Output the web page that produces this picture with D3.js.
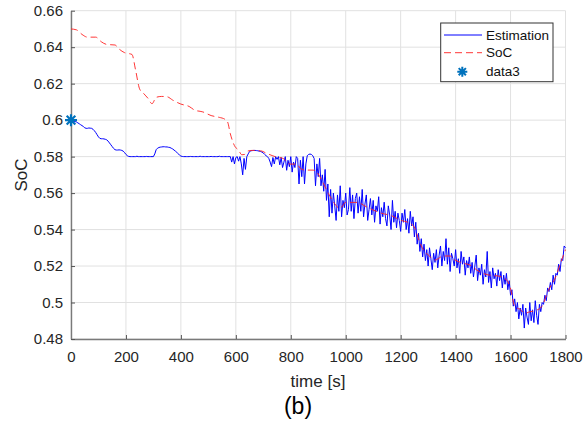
<!DOCTYPE html>
<html><head><meta charset="utf-8">
<script src="https://cdn.jsdelivr.net/npm/d3@7"></script>
<style>body{margin:0;background:#fff} svg{display:block;font-family:"Liberation Sans",Arial,Helvetica,sans-serif}</style>
</head><body><svg id="c" width="584" height="423"></svg>
<script>
// ---------- data ----------
const xTicks = [0, 200, 400, 600, 800, 1000, 1200, 1400, 1600, 1800];
const xTickLabels = ["0", "200", "400", "600", "800", "1000", "1200", "1400", "1600", "1800"];
const yTicks = [0.48, 0.5, 0.52, 0.54, 0.56, 0.58, 0.6, 0.62, 0.64, 0.66];
const yTickLabels = ["0.48", "0.5", "0.52", "0.54", "0.56", "0.58", "0.6", "0.62", "0.64", "0.66"];
const legendLabels = ["Estimation", "SoC", "data3"];

// Estimation: one sample every 5 s from 0 s to 1800 s
const estStartTime = 0;
const estStepSeconds = 5;
const estSoC = [
  0.6000,0.5998,0.5995,0.5992,0.5990,0.5985,0.5980,0.5975,0.5970,0.5965,
  0.5958,0.5955,0.5955,0.5957,0.5956,0.5955,0.5950,0.5942,0.5932,0.5920,
  0.5908,0.5900,0.5898,0.5898,0.5897,0.5895,0.5892,0.5885,0.5875,0.5865,
  0.5855,0.5845,0.5838,0.5836,0.5836,0.5837,0.5836,0.5834,0.5830,0.5822,
  0.5812,0.5805,0.5801,0.5800,0.5800,0.5800,0.5800,0.5800,0.5802,0.5800,
  0.5800,0.5800,0.5800,0.5800,0.5800,0.5801,0.5800,0.5800,0.5800,0.5800,
  0.5800,0.5815,0.5838,0.5846,0.5850,0.5852,0.5853,0.5854,0.5854,0.5853,
  0.5853,0.5851,0.5850,0.5846,0.5842,0.5836,0.5830,0.5824,0.5816,0.5808,
  0.5803,0.5801,0.5800,0.5800,0.5800,0.5800,0.5800,0.5801,0.5800,0.5800,
  0.5800,0.5800,0.5800,0.5800,0.5802,0.5800,0.5800,0.5800,0.5800,0.5800,
  0.5800,0.5800,0.5801,0.5800,0.5800,0.5800,0.5800,0.5800,0.5802,0.5800,
  0.5800,0.5800,0.5800,0.5800,0.5800,0.5800,0.5800,0.5770,0.5800,0.5760,
  0.5795,0.5800,0.5775,0.5800,0.5760,0.5700,0.5790,0.5730,0.5800,0.5815,
  0.5828,0.5832,0.5833,0.5834,0.5834,0.5833,0.5832,0.5830,0.5828,0.5825,
  0.5820,0.5812,0.5805,0.5800,0.5790,0.5770,0.5745,0.5795,0.5760,0.5800,
  0.5785,0.5800,0.5755,0.5795,0.5740,0.5770,0.5800,0.5725,0.5780,0.5745,
  0.5800,0.5715,0.5770,0.5740,0.5800,0.5790,0.5650,0.5780,0.5690,0.5800,
  0.5650,0.5760,0.5805,0.5812,0.5814,0.5812,0.5805,0.5790,0.5640,0.5760,
  0.5690,0.5790,0.5640,0.5700,0.5610,0.5730,0.5560,0.5650,0.5470,0.5620,
  0.5490,0.5600,0.5530,0.5450,0.5590,0.5500,0.5640,0.5470,0.5560,0.5520,
  0.5600,0.5480,0.5510,0.5630,0.5500,0.5590,0.5460,0.5570,0.5600,0.5490,
  0.5580,0.5500,0.5620,0.5470,0.5540,0.5590,0.5450,0.5510,0.5570,0.5480,
  0.5560,0.5440,0.5530,0.5500,0.5580,0.5430,0.5520,0.5470,0.5550,0.5460,
  0.5420,0.5530,0.5480,0.5400,0.5560,0.5440,0.5500,0.5410,0.5490,0.5450,
  0.5390,0.5490,0.5440,0.5510,0.5400,0.5460,0.5380,0.5500,0.5420,0.5470,
  0.5360,0.5440,0.5320,0.5380,0.5280,0.5350,0.5250,0.5320,0.5230,0.5290,
  0.5200,0.5300,0.5240,0.5180,0.5270,0.5220,0.5290,0.5190,0.5260,0.5310,
  0.5200,0.5280,0.5230,0.5350,0.5210,0.5300,0.5170,0.5270,0.5240,0.5200,
  0.5290,0.5190,0.5240,0.5160,0.5280,0.5210,0.5250,0.5150,0.5230,0.5190,
  0.5250,0.5160,0.5220,0.5140,0.5200,0.5260,0.5120,0.5190,0.5150,0.5210,
  0.5100,0.5180,0.5140,0.5280,0.5110,0.5170,0.5080,0.5190,0.5130,0.5160,
  0.5090,0.5180,0.5120,0.5170,0.5080,0.5150,0.5100,0.5160,0.5070,0.5120,
  0.5040,0.5070,0.4980,0.5020,0.4950,0.5000,0.4910,0.4970,0.4930,0.4990,
  0.4860,0.4970,0.4920,0.4880,0.5000,0.4900,0.4960,0.4890,0.5010,0.4930,
  0.4880,0.4990,0.4950,0.5000,0.4990,0.5040,0.5010,0.5080,0.5060,0.5110,
  0.5070,0.5150,0.5100,0.5160,0.5150,0.5210,0.5170,0.5240,0.5230,0.5310,
  0.5300
];

// SoC (reference) curve
const socTime = [0,20,40,60,90,110,130,160,175,195,210,222,235,250,265,280,295,310,330,350,370,400,430,450,480,510,540,560,570,580,595,610,622,632,642,660,690,712,743,772,790,797,822,835,852,881,895,913,937,955,979,1000,1046,1064,1100,1131,1167,1198,1234,1252,1264,1283,1301,1325,1355,1380,1398,1422,1459,1477,1519,1556,1586,1598,1616,1634,1653,1671,1689,1713,1738,1762,1786,1800];
const socValue = [0.650,0.6495,0.647,0.6455,0.6455,0.643,0.6415,0.6412,0.639,0.637,0.6365,0.636,0.6275,0.617,0.6145,0.612,0.609,0.6125,0.613,0.6128,0.611,0.6088,0.6075,0.6055,0.6045,0.6025,0.6015,0.6005,0.599,0.5925,0.586,0.5835,0.581,0.5812,0.583,0.5834,0.5832,0.5818,0.580,0.579,0.5765,0.5759,0.5759,0.5735,0.5726,0.5726,0.5715,0.567,0.5598,0.5552,0.5516,0.5549,0.5549,0.5534,0.5507,0.5489,0.5476,0.5452,0.5434,0.5407,0.5352,0.5288,0.526,0.5233,0.5255,0.5255,0.5233,0.5218,0.520,0.5178,0.5151,0.5145,0.5123,0.5087,0.4977,0.4963,0.4941,0.495,0.4955,0.4977,0.5068,0.5133,0.5233,0.529];

// data3 marker
const data3Time = [0];
const data3Value = [0.6];

// ---------- chart ----------
const svg = d3.select("#c");
const L = 71, R = 565.5, T = 10.7, B = 339;
const x = d3.scaleLinear().domain([0, 1800]).range([L, R]);
const y = d3.scaleLinear().domain([0.48, 0.66]).range([B, T]);

const gridColor = "#e1e1e1";
const g = svg.append("g");
g.selectAll(".vg").data(xTicks).join("line")
  .attr("x1", d => x(d)).attr("x2", d => x(d)).attr("y1", T).attr("y2", B)
  .attr("stroke", gridColor).attr("stroke-width", 1);
g.selectAll(".hg").data(yTicks).join("line")
  .attr("y1", d => y(d)).attr("y2", d => y(d)).attr("x1", L).attr("x2", R)
  .attr("stroke", gridColor).attr("stroke-width", 1);

// axes
const axColor = "#7a7a7a";
const xAxis = svg.append("g").attr("transform", `translate(0,${B})`)
  .call(d3.axisBottom(x).tickValues(xTicks).tickFormat((d, i) => xTickLabels[i])
    .tickSize(-4).tickSizeOuter(0).tickPadding(12.5));
const yAxis = svg.append("g").attr("transform", `translate(${L},0)`)
  .call(d3.axisLeft(y).tickValues(yTicks).tickFormat((d, i) => yTickLabels[i])
    .tickSize(-4).tickSizeOuter(0).tickPadding(8));
[xAxis, yAxis].forEach(a => {
  a.select(".domain").attr("stroke", axColor).attr("stroke-width", 1.4);
  a.selectAll(".tick line").attr("stroke", "#555").attr("stroke-width", 1);
  a.selectAll(".tick text").attr("fill", "#262626").attr("font-size", 15)
    .attr("font-family", "'Liberation Sans',Arial,sans-serif");
});

// lines
const estPoints = estSoC.map((v, i) => [estStartTime + i * estStepSeconds, v]);
const line = d3.line().x(d => x(d[0])).y(d => y(d[1]));
svg.append("path").datum(estPoints).attr("d", line)
  .attr("fill", "none").attr("stroke", "#0000ff").attr("stroke-width", 1)
  .attr("stroke-linejoin", "round");
const socPoints = socTime.map((t, i) => [t, socValue[i]]);
svg.append("path").datum(socPoints).attr("d", line.curve(d3.curveMonotoneX))
  .attr("fill", "none").attr("stroke", "#ff2020").attr("stroke-width", 0.9)
  .attr("stroke-dasharray", "7,4");

// star marker
const starPath = s => `M${-s},0H${s}M0,${-s}V${s}M${-s*0.72},${-s*0.72}L${s*0.72},${s*0.72}M${-s*0.72},${s*0.72}L${s*0.72},${-s*0.72}`;
svg.selectAll(".star").data(data3Time).join("path")
  .attr("transform", (d, i) => `translate(${x(d)},${y(data3Value[i])})`)
  .attr("d", starPath(6)).attr("stroke", "#0072BD").attr("stroke-width", 2.2).attr("fill", "none");

// legend
const lg = svg.append("g");
lg.append("rect").attr("x", 440.7).attr("y", 23).attr("width", 112.3).attr("height", 58.7)
  .attr("fill", "#fff").attr("stroke", "#333").attr("stroke-width", 1);
const rowY = [35, 52.7, 71.7];
lg.append("line").attr("x1", 444).attr("x2", 482).attr("y1", rowY[0]).attr("y2", rowY[0])
  .attr("stroke", "#0000ff").attr("stroke-width", 1);
lg.append("line").attr("x1", 444).attr("x2", 482).attr("y1", rowY[1]).attr("y2", rowY[1])
  .attr("stroke", "#ff2020").attr("stroke-width", 0.9).attr("stroke-dasharray", "7,4");
lg.append("path").attr("transform", `translate(462.3,${rowY[2]})`).attr("d", starPath(5))
  .attr("stroke", "#0072BD").attr("stroke-width", 2).attr("fill", "none");
lg.selectAll("text.l").data(legendLabels).join("text")
  .attr("x", 486).attr("y", (d, i) => rowY[i]).attr("dy", "0.35em")
  .attr("font-size", 13.5).attr("fill", "#111").text(d => d);

// labels
svg.append("text").attr("x", 318).attr("y", 387).attr("text-anchor", "middle")
  .attr("font-size", 17).attr("fill", "#262626").text("time [s]");
svg.append("text").attr("transform", "translate(27,175) rotate(-90)").attr("text-anchor", "middle")
  .attr("font-size", 17).attr("fill", "#262626").text("SoC");
svg.append("text").attr("x", 298).attr("y", 413.5).attr("text-anchor", "middle")
  .attr("font-size", 23).attr("fill", "#000").text("(b)");
</script></body></html>
